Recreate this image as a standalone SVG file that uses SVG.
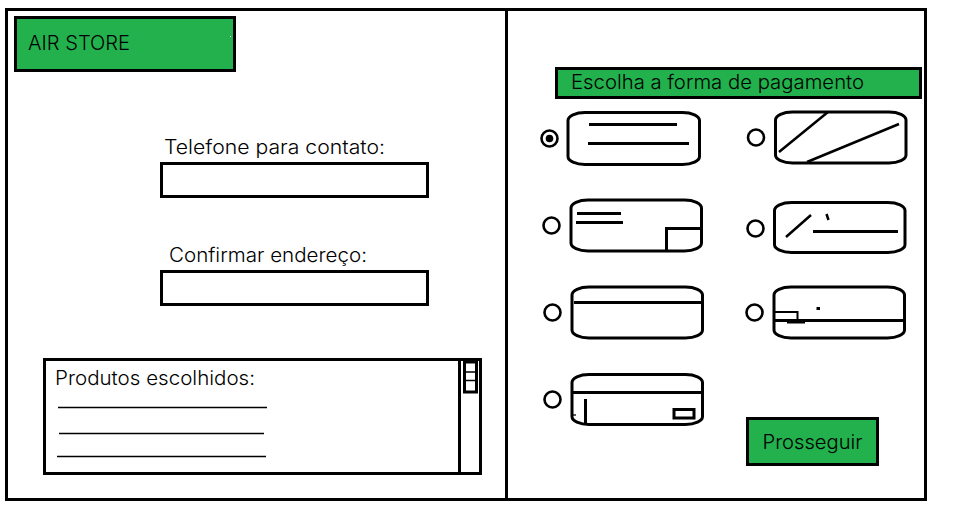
<svg xmlns="http://www.w3.org/2000/svg" width="963" height="522" viewBox="0 0 963 522">
<style>
.b{fill:none;stroke:#000;stroke-width:3}
.g{fill:#22b14c;stroke:#000;stroke-width:3}
.w{fill:#fff;stroke:#000;stroke-width:3}
.l{fill:none;stroke:#000;stroke-width:3}
.t{fill:none;stroke:#000;stroke-width:1.3}
.r{fill:#fff;stroke:#000;stroke-width:2.6}
text{font-family:"Inter","Noto Sans",sans-serif;font-size:19.5px;font-weight:300;fill:#000}
</style>
<rect width="963" height="522" fill="#fff"/>
<g id="frame">
<rect class="b" x="6.5" y="9.5" width="919" height="490"/>
<path class="l" d="M506.5 10V499"/>
</g>
<g id="header">
<rect class="g" x="15.5" y="17.5" width="219" height="53"/>
<rect x="230" y="36" width="1" height="1" fill="#fff"/>
<text x="28" y="49.500" textLength="102" lengthAdjust="spacingAndGlyphs">AIR STORE</text>
</g>
<g id="telefone">
<text x="164" y="154" textLength="221" lengthAdjust="spacingAndGlyphs">Telefone para contato:</text>
<rect class="w" x="161.5" y="163.5" width="266" height="33"/>
</g>
<g id="endereco">
<text x="169" y="262" textLength="198" lengthAdjust="spacingAndGlyphs">Confirmar endereço:</text>
<rect class="w" x="161.5" y="271.5" width="266" height="33"/>
</g>
<g id="produtos">
<rect class="w" x="44.5" y="359.5" width="436" height="114"/>
<path class="l" d="M459.500 360V473"/>
<rect class="b" x="464.5" y="362" width="12" height="30"/>
<path class="t" d="M466 372H475M466 380.500H475"/>
<text x="55" y="385" textLength="200" lengthAdjust="spacingAndGlyphs">Produtos escolhidos:</text>
<path class="t" d="M58 407.500H267M59 433.500H264M57 456.500H266"/>
</g>
<g id="titulo-pagamento">
<rect class="g" x="556.500" y="68.500" width="364" height="29"/>
<text x="571" y="89" textLength="293" lengthAdjust="spacingAndGlyphs">Escolha a forma de pagamento</text>
</g>
<g id="opcao-1">
<circle class="r" cx="549.500" cy="138.500" r="8"/><circle cx="549.500" cy="138.500" r="3.800"/>
<rect class="b" x="568" y="112.500" width="131.500" height="52" rx="17" ry="8"/>
<path class="l" d="M589 124.500H677M588 143.500H689"/>
</g>
<g id="opcao-2">
<circle class="r" cx="551.500" cy="225.500" r="8"/>
<rect class="b" x="571" y="200" width="130.500" height="51" rx="17" ry="8"/>
<path class="l" d="M577 213.500H621M576 222.500H623M666.500 250V228.500H702"/>
</g>
<g id="opcao-3">
<circle class="r" cx="552.500" cy="312.500" r="8"/>
<rect class="b" x="572" y="287" width="130.500" height="51" rx="17" ry="8"/>
<path class="l" d="M574 302.500H703"/>
</g>
<g id="opcao-4">
<circle class="r" cx="552.500" cy="399.500" r="8"/>
<rect class="b" x="572" y="374.500" width="130.500" height="50" rx="17" ry="8"/>
<path class="l" d="M572 392.500H703M585.500 399V423"/>
<rect class="b" x="674" y="409.500" width="20" height="8.500"/>
<path class="t" d="M573 415H576"/>
</g>
<g id="opcao-5">
<circle class="r" cx="756" cy="137.500" r="8"/>
<rect class="b" x="775.500" y="112" width="130.500" height="51" rx="17" ry="8"/>
<path class="l" style="stroke-width:2.500" d="M779 152L828 112M807 162L899 124"/>
</g>
<g id="opcao-6">
<circle class="r" cx="755.500" cy="228.500" r="8"/>
<rect class="b" x="774.500" y="202.500" width="130.500" height="50" rx="17" ry="8"/>
<path class="l" style="stroke-width:2.500" d="M786 237L811 215M826.500 214L828.500 220"/>
<path class="l" d="M813 231.500H898"/>
</g>
<g id="opcao-7">
<circle class="r" cx="754.500" cy="312.500" r="8"/>
<rect class="b" x="774" y="287" width="130.500" height="51" rx="17" ry="8"/>
<path class="l" d="M773 320.500H905"/>
<path class="l" style="stroke-width:2" d="M774 312H797.500V322M787 322.500H805"/>
<rect x="816.500" y="307" width="3.500" height="3"/>
</g>
<g id="prosseguir">
<rect class="g" x="747.500" y="418.500" width="130" height="46"/>
<text x="762.500" y="449" textLength="100" lengthAdjust="spacingAndGlyphs">Prosseguir</text>
</g>
</svg>
